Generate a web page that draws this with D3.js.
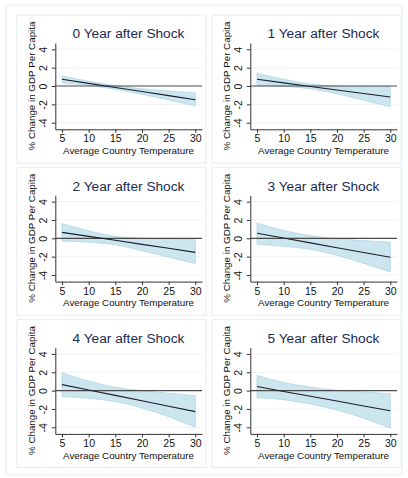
<!DOCTYPE html>
<html>
<head>
<meta charset="utf-8">
<script src="https://cdn.jsdelivr.net/npm/d3@7"></script>
<style>
  body { margin: 0; background: #fff; }
  svg { display: block; font-family: "Liberation Sans", Arial, sans-serif; }
</style>
</head>
<body>
<div id="chart"></div>
<script>
// Values, at each x tick
const temps = [5, 10, 15, 20, 25, 30];
const xTicks = [5, 10, 15, 20, 25, 30];
const yTicks = [-4, -2, 0, 2, 4];
const titles = ["0 Year after Shock", "1 Year after Shock", "2 Year after Shock",
                "3 Year after Shock", "4 Year after Shock", "5 Year after Shock"];

const est = [
    [0.73, 0.29, -0.16, -0.60, -1.05, -1.49],
    [0.73, 0.34, -0.05, -0.43, -0.82, -1.20],
    [0.65, 0.21, -0.22, -0.66, -1.09, -1.53],
    [0.55, 0.03, -0.50, -1.02, -1.55, -2.07],
    [0.65, 0.06, -0.52, -1.11, -1.70, -2.29],
    [0.44, -0.09, -0.62, -1.14, -1.67, -2.20]
];
const upper = [
    [1.10, 0.52, 0.05, -0.30, -0.55, -0.75],
    [1.40, 0.74, 0.22, 0.00, -0.05, -0.08],
    [1.60, 0.82, 0.22, 0.01, -0.08, -0.15],
    [1.67, 0.84, 0.29, -0.04, -0.25, -0.44],
    [1.93, 1.05, 0.36, 0.00, -0.29, -0.55],
    [1.65, 0.88, 0.37, 0.04, -0.15, -0.33]
];
const lower = [
    [0.33, 0.07, -0.36, -0.90, -1.52, -2.17],
    [0.03, -0.04, -0.30, -0.85, -1.55, -2.25],
    [-0.29, -0.42, -0.70, -1.35, -2.05, -2.76],
    [-0.65, -0.87, -1.20, -1.85, -2.73, -3.67],
    [-0.65, -0.84, -1.20, -1.89, -2.84, -4.00],
    [-0.77, -0.99, -1.46, -2.12, -3.00, -4.10]
];

const W = 408, H = 478;
const colOff = 195, rowOff = 152.3;

const svg = d3.select("#chart").append("svg")
    .attr("width", W)
    .attr("height", H);

// outer frame
svg.append("rect")
    .attr("x", 6).attr("y", 5)
    .attr("width", 396).attr("height", 470)
    .attr("fill", "none")
    .attr("stroke", "#e6eef2");

const x = d3.scaleLinear().domain([3.74, 31.26]).range([55.3, 202]);
const y = d3.scaleLinear().domain([-4.72, 4.69]).range([129.3, 43]);

titles.forEach((title, i) => {
    const col = i % 2, row = Math.floor(i / 2);
    const g = svg.append("g")
        .attr("transform", `translate(${col * colOff},${row * rowOff})`);

    // panel box
    g.append("rect")
        .attr("x", 17).attr("y", 15)
        .attr("width", 189).attr("height", 148)
        .attr("fill", "none")
        .attr("stroke", "#e6eef2");

    // grid lines
    g.selectAll(".grid")
        .data(yTicks.filter(d => d !== 0))
        .enter()
        .append("line")
        .attr("x1", x.range()[0]).attr("x2", x.range()[1])
        .attr("y1", d => y(d)).attr("y2", d => y(d))
        .attr("stroke", "#e8eff3")
        .attr("stroke-width", 0.8);

    const pts = temps.map((t, j) => ({ t, e: est[i][j], lo: lower[i][j], hi: upper[i][j] }));

    // confidence band
    g.append("path")
        .datum(pts)
        .attr("d", d3.area()
            .x(d => x(d.t))
            .y0(d => y(d.lo))
            .y1(d => y(d.hi))
            .curve(d3.curveMonotoneX))
        .attr("fill", "#cce6ef")
        .attr("stroke", "#a8d3e3")
        .attr("stroke-width", 0.7);

    // zero line
    g.append("line")
        .attr("x1", x.range()[0]).attr("x2", x.range()[1])
        .attr("y1", y(0)).attr("y2", y(0))
        .attr("stroke", "#4a4a4a")
        .attr("stroke-width", 1.2);

    // point estimate
    g.append("path")
        .datum(pts)
        .attr("d", d3.line().x(d => x(d.t)).y(d => y(d.e)))
        .attr("fill", "none")
        .attr("stroke", "#1c1c2a")
        .attr("stroke-width", 1.1);

    // axes
    const yAxis = g.append("g")
        .attr("transform", `translate(${x.range()[0]},0)`)
        .call(d3.axisLeft(y).tickValues(yTicks).tickSize(3.5).tickSizeOuter(0).tickFormat(d => String(d)));
    yAxis.selectAll("text")
        .attr("x", null).attr("dy", null)
        .attr("transform", "translate(-8.6,0) rotate(-90)")
        .style("text-anchor", "middle")
        .style("font-size", "10.5px")
        .attr("fill", "#111");

    const xAxis = g.append("g")
        .attr("transform", `translate(0,${y.range()[0]})`)
        .call(d3.axisBottom(x).tickValues(xTicks).tickSize(3.5).tickPadding(2).tickSizeOuter(0));
    xAxis.selectAll("text")
        .style("font-size", "10.5px")
        .attr("fill", "#111");

    [yAxis, xAxis].forEach(a => {
        a.select(".domain").attr("stroke", "#333");
        a.selectAll(".tick line").attr("stroke", "#333");
    });

    // title and axis titles
    g.append("text")
        .attr("x", 128.5).attr("y", 38.3)
        .style("text-anchor", "middle")
        .style("font-size", "13.7px")
        .attr("fill", "#1c2b4f")
        .text(title);

    g.append("text")
        .attr("x", 128.5).attr("y", 154)
        .style("text-anchor", "middle")
        .style("font-size", "9.8px")
        .attr("fill", "#111")
        .text("Average Country Temperature");

    g.append("text")
        .attr("transform", `translate(35,${y(0)}) rotate(-90)`)
        .style("text-anchor", "middle")
        .style("font-size", "9.8px")
        .attr("fill", "#111")
        .text("% Change in GDP Per Capita");
});
</script>
</body>
</html>
